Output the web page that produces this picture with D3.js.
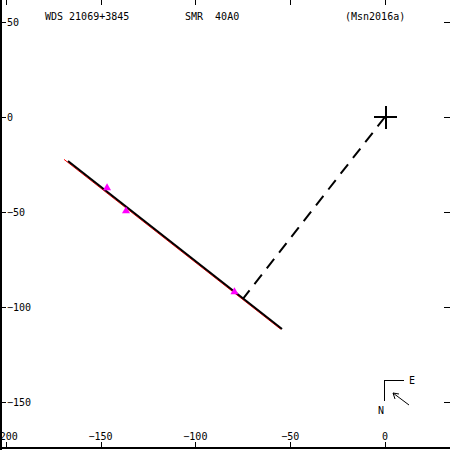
<!DOCTYPE html>
<body style="margin:0">
<svg width="450" height="450" font-family="DejaVu Sans Mono" font-size="10"></svg>
</body>
<style type="text/css">
text { white-space: pre; }
</style>
<script src="https://d3js.org/d3.v7.min.js"></script>
<script>

var svg = d3.select("svg"),
    width = +svg.attr("width"),
    height = +svg.attr("height");

// header texts
var title = "WDS 21069+3845";
var code = "SMR  40A0";
var ref = "(Msn2016a)";

// ticks
var xTicks = [-200, -150, -100, -50, 0];
var yTicks = [50, 0, -50, -100, -150];

// fitted motion line
var fitLine = [[-167.2, -23.2], [-54.3, -111.6]];
// observed track (red)
var obsLine = [[-169.3, -22.3], [-55.0, -111.7]];
// measures (magenta)
var measures = [[-146.6, -37.3], [-136.6, -49.5], [-79.4, -92.0]];
var primary = [0, 0];

var x = d3.scaleLinear().domain([-203.06, 34.3]).range([0, 450]);
var y = d3.scaleLinear().domain([61.58, -175.26]).range([0, 450]);

var g = svg.append("g").attr("shape-rendering", "crispEdges");

// frame: left and bottom
g.append("line").attr("x1", 1).attr("x2", 1).attr("y1", 0).attr("y2", height)
    .attr("stroke", "#000").attr("stroke-width", 2);
g.append("line").attr("x1", 0).attr("x2", width).attr("y1", 448).attr("y2", 448)
    .attr("stroke", "#000").attr("stroke-width", 2);

// x ticks top and bottom
xTicks.forEach(function(t) {
  var px = Math.round(x(t)) + 0.5;
  g.append("line").attr("x1", px).attr("x2", px).attr("y1", 0).attr("y2", 5).attr("stroke", "#000");
  g.append("line").attr("x1", px).attr("x2", px).attr("y1", 442).attr("y2", 448).attr("stroke", "#000");
  svg.append("text").attr("x", x(t)).attr("y", 440).attr("text-anchor", "middle")
      .text(String(t).replace("-", "\u2212"));
});

// y ticks left and right
yTicks.forEach(function(t) {
  var py = Math.round(y(t)) + 0.5;
  g.append("line").attr("x1", 0).attr("x2", 6).attr("y1", py).attr("y2", py).attr("stroke", "#000");
  g.append("line").attr("x1", 444).attr("x2", 450).attr("y1", py).attr("y2", py).attr("stroke", "#000");
  svg.append("text").attr("x", 7).attr("y", y(t)).attr("dy", "0.35em")
      .text(String(t).replace("-", "\u2212"));
});

// header
svg.append("text").attr("x", 45).attr("y", 20).text(title);
svg.append("text").attr("x", 185).attr("y", 20).text(code);
svg.append("text").attr("x", 345).attr("y", 20).text(ref);

var line = d3.line().x(function(d) { return x(d[0]); }).y(function(d) { return y(d[1]); });

// red observed track
svg.append("path").attr("d", line(obsLine)).attr("fill", "none")
    .attr("stroke", "#ff0000").attr("stroke-width", 1);

// black fitted line
svg.append("path").attr("d", line(fitLine)).attr("fill", "none")
    .attr("stroke", "#000").attr("stroke-width", 2);

// closest approach: projection of primary on the fitted line
var p0 = fitLine[0], p1 = fitLine[1];
var dx = p1[0] - p0[0], dy = p1[1] - p0[1];
var t = ((primary[0] - p0[0]) * dx + (primary[1] - p0[1]) * dy) / (dx * dx + dy * dy);
var foot = [p0[0] + t * dx, p0[1] + t * dy];
svg.append("path").attr("d", line([primary, foot])).attr("fill", "none")
    .attr("stroke", "#000").attr("stroke-width", 2).attr("stroke-dasharray", "12,8");

// measures
svg.selectAll(".meas")
  .data(measures)
  .enter().append("path")
    .attr("class", "meas")
    .attr("d", d3.symbol().type(d3.symbolTriangle).size(28))
    .attr("transform", function(d) { return "translate(" + x(d[0]) + "," + y(d[1]) + ")"; })
    .attr("fill", "#ff00ff");

// primary star
var cx = x(primary[0]), cy = y(primary[1]);
g.append("line").attr("x1", cx - 11).attr("x2", cx + 12).attr("y1", cy).attr("y2", cy)
    .attr("stroke", "#000").attr("stroke-width", 2);
g.append("line").attr("x1", cx + 1).attr("x2", cx + 1).attr("y1", cy - 11).attr("y2", cy + 12)
    .attr("stroke", "#000").attr("stroke-width", 2);

// compass
g.append("path").attr("d", "M384.5,401V380.5H404").attr("fill", "none").attr("stroke", "#000");
svg.append("text").attr("x", 409).attr("y", 384).text("E");
svg.append("text").attr("x", 378).attr("y", 414).text("N");
svg.append("path").attr("d", "M409,405L393,393").attr("stroke", "#000");
svg.append("path").attr("d", "M393,393L399,394M393,393L395,399").attr("stroke", "#000").attr("fill", "none");

</script>
